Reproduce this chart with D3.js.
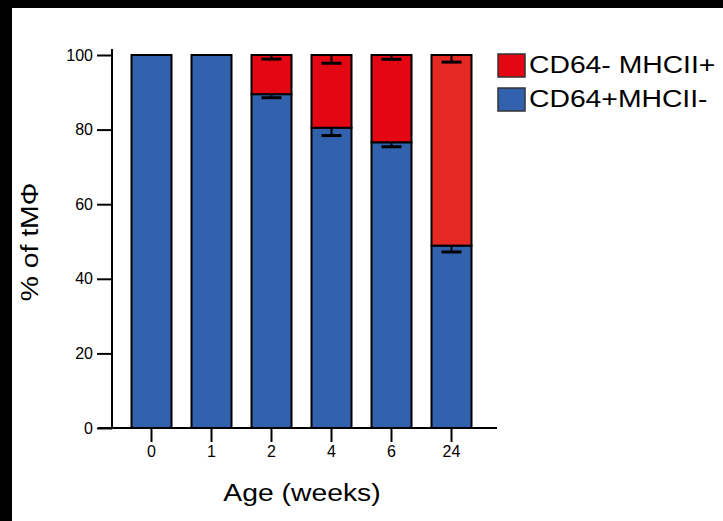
<!DOCTYPE html>
<html>
<head>
<meta charset="utf-8" />
<style>
	html, body { margin: 0; padding: 0; background: #000; }
	svg { display: block; }
	text { font-family: "Liberation Sans", Arial, sans-serif; fill: #000; }
</style>
</head>
<body>
<script src="https://cdn.jsdelivr.net/npm/d3@7"></script>
<script>
	// data
	const ages = ["0", "1", "2", "4", "6", "24"];
	const bluePct = [100, 100, 89.5, 80.5, 76.6, 48.9];   // CD64+MHCII-
	const redPct = [0, 0, 10.5, 19.5, 23.4, 51.1];       // CD64- MHCII+
	const blueErr = [0, 0, 0.95, 2.1, 1.2, 1.7];
	const redErr = [0, 0, 1.1, 2.2, 1.15, 1.9];
	const yTicks = [0, 20, 40, 60, 80, 100];
	const legendLabels = ["CD64- MHCII+", "CD64+MHCII-"];

	const blue = "#3262ad";
	const redFills = ["#e30613", "#e30613", "#e30613", "#e30613", "#e30613", "#e52822"];

	const W = 723, H = 521;
	const svg = d3.select("body").append("svg").attr("width", W).attr("height", H);

	// black frame on top / left, white page
	svg.append("rect").attr("width", W).attr("height", H).attr("fill", "#000");
	svg.append("rect").attr("x", 12).attr("y", 8).attr("width", W - 12).attr("height", H - 8).attr("fill", "#fff");

	const x = d3.scaleBand().domain(ages).range([121.5, 481.5]).paddingInner(1 / 3).paddingOuter(1 / 6);
	const y = d3.scaleLinear().domain([0, 100]).range([428, 55]);

	const rows = ages.map((a, i) => ({ age: a, blue: bluePct[i], red: redPct[i], be: blueErr[i], re: redErr[i], rc: redFills[i] }));

	// bars
	const g = svg.append("g");
	g.selectAll(".blue").data(rows).join("rect")
		.attr("x", d => x(d.age)).attr("width", x.bandwidth())
		.attr("y", d => y(d.blue)).attr("height", d => y(0) - y(d.blue))
		.attr("fill", blue).attr("stroke", "#000").attr("stroke-width", 2);
	g.selectAll(".red").data(rows.filter(d => d.red > 0)).join("rect")
		.attr("x", d => x(d.age)).attr("width", x.bandwidth())
		.attr("y", d => y(d.blue + d.red)).attr("height", d => y(d.blue) - y(d.blue + d.red))
		.attr("fill", d => d.rc).attr("stroke", "#000").attr("stroke-width", 2);

	// error bars (lower side only)
	function errBar(top, err) {
		return rows.filter(d => err(d) > 0).map(d => ({ cx: x(d.age) + x.bandwidth() / 2, v: top(d), e: err(d) }));
	}
	const errs = errBar(d => d.blue, d => d.be).concat(errBar(d => d.blue + d.red, d => d.re));
	const eg = svg.append("g").attr("stroke", "#000");
	eg.selectAll(".stem").data(errs).join("line")
		.attr("x1", d => d.cx).attr("x2", d => d.cx)
		.attr("y1", d => y(d.v)).attr("y2", d => y(d.v - d.e))
		.attr("stroke-width", 2);
	eg.selectAll(".cap").data(errs).join("line")
		.attr("x1", d => d.cx - 10).attr("x2", d => d.cx + 10)
		.attr("y1", d => y(d.v - d.e)).attr("y2", d => y(d.v - d.e))
		.attr("stroke-width", 3);

	// y axis
	const yAxis = svg.append("g").attr("transform", "translate(112,0)")
		.call(d3.axisLeft(y).tickValues(yTicks).tickSize(15).tickPadding(4));
	yAxis.select(".domain").remove();
	yAxis.selectAll("line").attr("stroke", "#000").attr("stroke-width", 2);
	yAxis.selectAll("text").attr("font-size", 16).attr("font-family", "Liberation Sans, Arial, sans-serif");
	svg.append("line").attr("x1", 112).attr("x2", 112).attr("y1", 49).attr("y2", 429)
		.attr("stroke", "#000").attr("stroke-width", 2);

	// x axis
	const xAxis = svg.append("g").attr("transform", "translate(0,428)")
		.call(d3.axisBottom(x).tickSize(14).tickPadding(4));
	xAxis.select(".domain").remove();
	xAxis.selectAll("line").attr("stroke", "#000").attr("stroke-width", 2);
	xAxis.selectAll("text").attr("font-size", 16).attr("font-family", "Liberation Sans, Arial, sans-serif");
	svg.append("line").attr("x1", 98).attr("x2", 497).attr("y1", 428).attr("y2", 428)
		.attr("stroke", "#000").attr("stroke-width", 2);

	// titles
	svg.append("text").attr("transform", "translate(302,501) scale(1.18,1)")
		.attr("text-anchor", "middle").attr("font-size", 24).text("Age (weeks)");
	svg.append("text").attr("transform", "translate(38,242) rotate(-90) scale(1.18,1)")
		.attr("text-anchor", "middle").attr("font-size", 24).text("% of tMΦ");

	// legend
	const legend = svg.append("g");
	const lg = legend.selectAll("g").data(legendLabels).join("g")
		.attr("transform", (d, i) => `translate(498,${54 + i * 34})`);
	lg.append("rect").attr("width", 27).attr("height", 23)
		.attr("fill", (d, i) => i === 0 ? redFills[0] : blue)
		.attr("stroke", "#333").attr("stroke-width", 1.5);
	lg.append("text").attr("transform", "translate(31,19) scale(1.18,1)")
		.attr("font-size", 24).text(d => d);
</script>
</body>
</html>
